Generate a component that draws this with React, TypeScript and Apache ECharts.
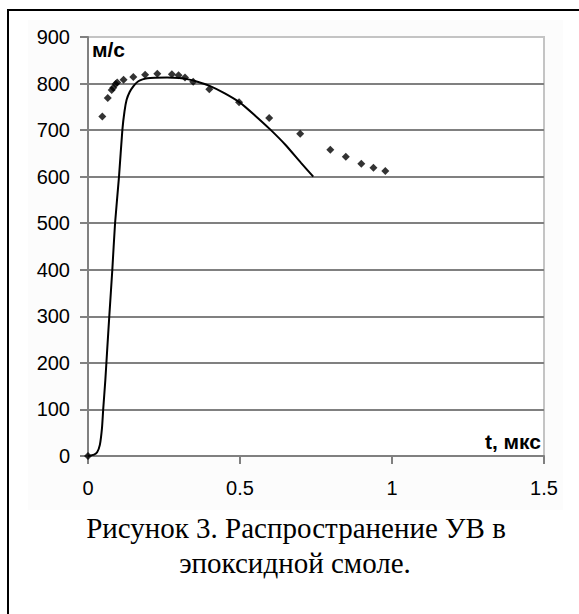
import React, { useEffect, useRef } from "react";
import * as echarts from "echarts";

// Solid curve (calculation), t in µs, v in m/s
const curveT = [0, 0.02, 0.03, 0.039, 0.046, 0.05, 0.057, 0.063, 0.07, 0.08, 0.089, 0.102, 0.113, 0.12, 0.127, 0.137, 0.149, 0.16, 0.171, 0.19, 0.204, 0.26, 0.3, 0.33, 0.36, 0.4, 0.45, 0.5, 0.55, 0.6, 0.65, 0.7, 0.741];
const curveV = [0, 3, 8, 24, 60, 100, 163, 227, 300, 400, 500, 600, 700, 740, 765, 782, 794, 802, 807, 811, 812, 813, 812, 809, 804, 795, 779, 759, 731, 701, 668, 630, 600];

// Experimental points
const expT = [0, 0.047, 0.065, 0.078, 0.083, 0.091, 0.096, 0.117, 0.149, 0.188, 0.228, 0.276, 0.298, 0.319, 0.346, 0.399, 0.497, 0.596, 0.698, 0.797, 0.848, 0.899, 0.939, 0.978];
const expV = [0, 729, 769, 786, 791, 799, 802, 808, 814, 819, 821, 820, 818, 813, 804, 788, 760, 726, 692, 658, 643, 628, 619, 612];

const yTicks = [0, 100, 200, 300, 400, 500, 600, 700, 800, 900];
const xTicks = [0, 0.5, 1, 1.5];

const yUnit = "м/с";
const xUnit = "t, мкс";
const captionLines = ["Рисунок 3. Распространение УВ в", "эпоксидной смоле."];

export default function App() {
  const ref = useRef<HTMLDivElement>(null);
  useEffect(() => {
    if (!ref.current) return;
    const chart = echarts.init(ref.current, null, { renderer: "svg" });
    const gridLeft = 88, gridTop = 37, gridRight = 35, gridBottom = 158;
    const splitColors = yTicks.map((v, i) => (i === yTicks.length - 1 ? "#c4c4c4" : "#808080"));
    const captionFont = "29px 'Liberation Serif', 'Times New Roman', serif";
    chart.setOption({
      animation: false,
      backgroundColor: "#ffffff",
      grid: {
        left: gridLeft, top: gridTop, right: gridRight, bottom: gridBottom,
        show: true, borderColor: "#c4c4c4", borderWidth: 2, backgroundColor: "#ffffff",
      },
      xAxis: {
        type: "value", min: xTicks[0], max: xTicks[xTicks.length - 1], interval: 0.5,
        axisLine: { show: true, lineStyle: { color: "#808080", width: 2 } },
        axisTick: { show: true, length: 8, lineStyle: { color: "#808080", width: 2 } },
        splitLine: { show: false },
        axisLabel: {
          color: "#000", fontFamily: "Liberation Sans, Arial", fontSize: 20, margin: 22,
          formatter: (v: number) => String(v),
        },
      },
      yAxis: {
        type: "value", min: yTicks[0], max: yTicks[yTicks.length - 1], interval: 100,
        axisLine: { show: true, lineStyle: { color: "#808080", width: 2 } },
        axisTick: { show: true, length: 8, lineStyle: { color: "#808080", width: 2 } },
        splitLine: { show: true, lineStyle: { color: splitColors, width: 2 } },
        axisLabel: { color: "#000", fontFamily: "Liberation Sans, Arial", fontSize: 20, margin: 18 },
      },
      series: [
        {
          type: "line",
          data: curveT.map((t, i) => [t, curveV[i]]),
          smooth: 0.2,
          showSymbol: false,
          symbol: "none",
          lineStyle: { color: "#000", width: 2 },
          z: 3,
        },
        {
          type: "scatter",
          data: expT.map((t, i) => [t, expV[i]]),
          symbol: "diamond",
          symbolSize: 8,
          itemStyle: { color: "#000" },
          z: 4,
        },
      ],
      graphic: [
        {
          type: "rect", z: -10, silent: true,
          shape: { x: 28, y: 20, width: 535, height: 490 },
          style: { fill: "#fcfcfc", stroke: "none" },
        },
        {
          type: "rect", z: 100, silent: true,
          shape: { x: 8, y: 10, width: 700, height: 800 },
          style: { fill: "none", stroke: "#000", lineWidth: 2 },
        },
        {
          type: "text", z: 50, x: 92, y: 49,
          style: { text: yUnit, fill: "#000", font: "bold 21px 'Liberation Sans', Arial", textVerticalAlign: "middle" },
        },
        {
          type: "text", z: 50, x: 541, y: 441,
          style: { text: xUnit, fill: "#000", font: "bold 21px 'Liberation Sans', Arial", textAlign: "right", textVerticalAlign: "middle" },
        },
        {
          type: "text", z: 50, x: 296, y: 528,
          style: { text: captionLines[0], fill: "#000", font: captionFont, textAlign: "center", textVerticalAlign: "middle" },
        },
        {
          type: "text", z: 50, x: 295, y: 563,
          style: { text: captionLines[1], fill: "#000", font: captionFont, textAlign: "center", textVerticalAlign: "middle" },
        },
      ],
    });
    return () => chart.dispose();
  }, []);
  return <div ref={ref} style={{ position: "absolute", left: 0, top: 0, width: 579, height: 614 }} />;
}
